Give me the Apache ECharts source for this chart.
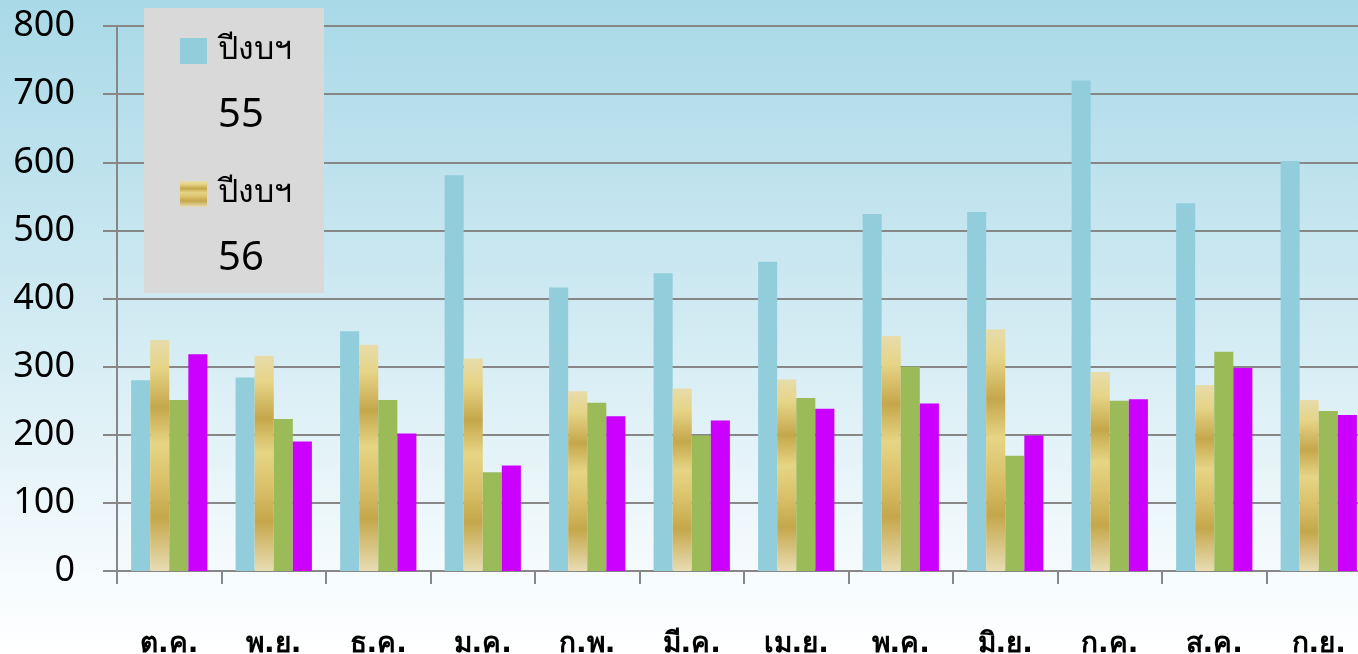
<!DOCTYPE html>
<html>
<head>
<meta charset="utf-8">
<script src="https://cdn.jsdelivr.net/npm/echarts@6/dist/echarts.min.js"></script>
<style>
html,body{margin:0;padding:0;width:1358px;height:654px;overflow:hidden;}
#chart{width:1358px;height:654px;}
</style>
</head>
<body>
<div id="chart"></div>
<script>
const categories = ['ต.ค.', 'พ.ย.', 'ธ.ค.', 'ม.ค.', 'ก.พ.', 'มี.ค.', 'เม.ย.', 'พ.ค.', 'มิ.ย.', 'ก.ค.', 'ส.ค.', 'ก.ย.'];
const seriesNames = ['ปีงบฯ 55', 'ปีงบฯ 56', 'ปีงบฯ 57', 'ปีงบฯ 58'];
const fy55 = [280, 284, 352, 581, 416, 437, 454, 524, 527, 720, 540, 602];
const fy56 = [339, 316, 332, 312, 264, 268, 281, 345, 355, 292, 273, 251];
const fy57 = [251, 223, 251, 145, 247, 199, 254, 300, 169, 250, 322, 235];
const fy58 = [318, 190, 202, 155, 227, 221, 238, 246, 199, 252, 298, 229];
const yTicks = [0, 100, 200, 300, 400, 500, 600, 700, 800];

const goldGradient = new echarts.graphic.LinearGradient(0, 0, 0, 1, [
  {offset: 0, color: '#e7dcab'},
  {offset: 0.12, color: '#e6d487'},
  {offset: 0.29, color: '#c5a74b'},
  {offset: 0.45, color: '#e6d585'},
  {offset: 0.6, color: '#dbc26b'},
  {offset: 0.77, color: '#c5a74b'},
  {offset: 1, color: '#e8ddb3'}
]);
const colors = ['#92cddc', goldGradient, '#9bbb59', '#cc00ff'];
const values = [fy55, fy56, fy57, fy58];

const chart = echarts.init(document.getElementById('chart'));
chart.setOption({
  animation: false,
  backgroundColor: new echarts.graphic.LinearGradient(0, 0, 0, 1, [
    {offset: 0, color: '#a9d9e7'},
    {offset: 0.5, color: '#d2ebf3'},
    {offset: 0.88, color: '#f6fbfd'},
    {offset: 1, color: '#ffffff'}
  ]),
  grid: {left: 117, right: -13, top: 26, bottom: 83, containLabel: false, outerBoundsMode: 'none'},
  graphic: [{
    type: 'rect', left: 144, top: 8, z: 2,
    shape: {width: 180, height: 285},
    style: {fill: '#d9d9d9'}
  }],
  legend: {
    data: seriesNames.slice(0, 2),
    orient: 'vertical',
    left: 180, top: -19, padding: 0,
    icon: 'rect',
    itemWidth: 27, itemHeight: 26, itemGap: -12,
    z: 5,
    formatter: function (name) {
      const parts = name.split(' ');
      return '{e| }\n{a|' + parts[0] + '}\n{b|' + parts[1] + '}';
    },
    textStyle: {
      rich: {
        e: {fontSize: 10, lineHeight: 80, padding: [0, 0, 0, 6]},
        a: {fontSize: 32, lineHeight: 50, color: '#000', padding: [0, 0, 0, 6], fontFamily: 'DejaVu Sans, Noto Sans, sans-serif'},
        b: {fontSize: 40, lineHeight: 80, color: '#000', padding: [0, 0, 0, 6], fontFamily: 'Noto Sans, sans-serif'}
      }
    }
  },
  xAxis: {
    type: 'category',
    data: categories,
    axisLine: {lineStyle: {color: '#878787', width: 2}},
    axisTick: {show: true, length: 13, lineStyle: {color: '#878787', width: 2}},
    axisLabel: {
      margin: 60, fontSize: 28, fontWeight: 'bold', color: '#000',
      fontFamily: 'DejaVu Sans, Noto Sans, sans-serif'
    }
  },
  yAxis: {
    type: 'value',
    min: yTicks[0], max: yTicks[yTicks.length - 1], interval: 100,
    axisLine: {show: true, lineStyle: {color: '#878787', width: 2}},
    axisTick: {show: true, length: 14, lineStyle: {color: '#878787', width: 2}},
    splitLine: {show: true, lineStyle: {color: '#878787', width: 2}},
    axisLabel: {margin: 42, fontSize: 36, color: '#000', fontFamily: 'Noto Sans, sans-serif'}
  },
  series: values.map(function (v, i) {
    return {
      name: seriesNames[i],
      type: 'bar',
      data: v,
      barGap: '0%',
      barCategoryGap: '27%',
      itemStyle: {color: colors[i]}
    };
  })
});
</script>
</body>
</html>
